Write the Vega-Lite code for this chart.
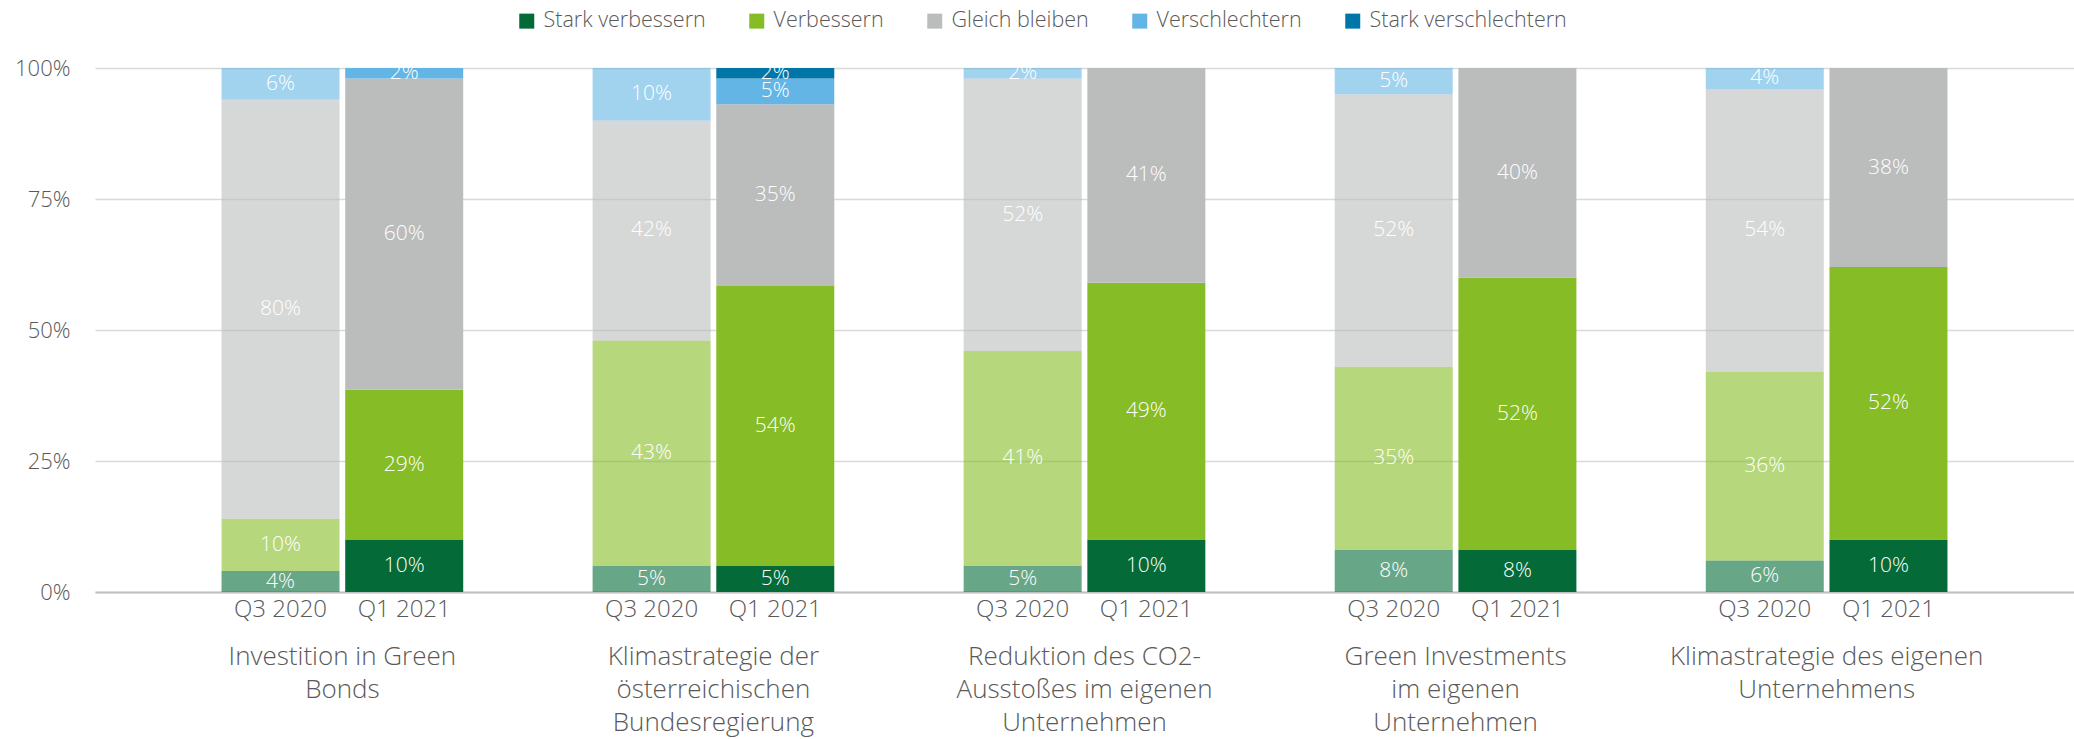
{
  "$schema": "https://vega.github.io/schema/vega-lite/v6.json",
  "width": 1979,
  "height": 524,
  "autosize": {"type": "none"},
  "padding": {"left": 95, "top": 68, "right": 0, "bottom": 147},
  "background": "white",
  "config": {
    "view": {"stroke": null},
    "font": "Open Sans",
    "text": {"font": "Open Sans"}
  },
  "data": {
    "values": [
      {"Thema": "Investition in Green Bonds", "Zeitraum": "Q3 2020", "Kategorie": "Stark verbessern", "Stufe": 1, "Wert": 0.04},
      {"Thema": "Investition in Green Bonds", "Zeitraum": "Q3 2020", "Kategorie": "Verbessern", "Stufe": 2, "Wert": 0.10},
      {"Thema": "Investition in Green Bonds", "Zeitraum": "Q3 2020", "Kategorie": "Gleich bleiben", "Stufe": 3, "Wert": 0.80},
      {"Thema": "Investition in Green Bonds", "Zeitraum": "Q3 2020", "Kategorie": "Verschlechtern", "Stufe": 4, "Wert": 0.06},
      {"Thema": "Investition in Green Bonds", "Zeitraum": "Q1 2021", "Kategorie": "Stark verbessern", "Stufe": 1, "Wert": 0.10},
      {"Thema": "Investition in Green Bonds", "Zeitraum": "Q1 2021", "Kategorie": "Verbessern", "Stufe": 2, "Wert": 0.29},
      {"Thema": "Investition in Green Bonds", "Zeitraum": "Q1 2021", "Kategorie": "Gleich bleiben", "Stufe": 3, "Wert": 0.60},
      {"Thema": "Investition in Green Bonds", "Zeitraum": "Q1 2021", "Kategorie": "Verschlechtern", "Stufe": 4, "Wert": 0.02},

      {"Thema": "Klimastrategie der österreichischen Bundesregierung", "Zeitraum": "Q3 2020", "Kategorie": "Stark verbessern", "Stufe": 1, "Wert": 0.05},
      {"Thema": "Klimastrategie der österreichischen Bundesregierung", "Zeitraum": "Q3 2020", "Kategorie": "Verbessern", "Stufe": 2, "Wert": 0.43},
      {"Thema": "Klimastrategie der österreichischen Bundesregierung", "Zeitraum": "Q3 2020", "Kategorie": "Gleich bleiben", "Stufe": 3, "Wert": 0.42},
      {"Thema": "Klimastrategie der österreichischen Bundesregierung", "Zeitraum": "Q3 2020", "Kategorie": "Verschlechtern", "Stufe": 4, "Wert": 0.10},
      {"Thema": "Klimastrategie der österreichischen Bundesregierung", "Zeitraum": "Q1 2021", "Kategorie": "Stark verbessern", "Stufe": 1, "Wert": 0.05},
      {"Thema": "Klimastrategie der österreichischen Bundesregierung", "Zeitraum": "Q1 2021", "Kategorie": "Verbessern", "Stufe": 2, "Wert": 0.54},
      {"Thema": "Klimastrategie der österreichischen Bundesregierung", "Zeitraum": "Q1 2021", "Kategorie": "Gleich bleiben", "Stufe": 3, "Wert": 0.35},
      {"Thema": "Klimastrategie der österreichischen Bundesregierung", "Zeitraum": "Q1 2021", "Kategorie": "Verschlechtern", "Stufe": 4, "Wert": 0.05},
      {"Thema": "Klimastrategie der österreichischen Bundesregierung", "Zeitraum": "Q1 2021", "Kategorie": "Stark verschlechtern", "Stufe": 5, "Wert": 0.02},

      {"Thema": "Reduktion des CO2-Ausstoßes im eigenen Unternehmen", "Zeitraum": "Q3 2020", "Kategorie": "Stark verbessern", "Stufe": 1, "Wert": 0.05},
      {"Thema": "Reduktion des CO2-Ausstoßes im eigenen Unternehmen", "Zeitraum": "Q3 2020", "Kategorie": "Verbessern", "Stufe": 2, "Wert": 0.41},
      {"Thema": "Reduktion des CO2-Ausstoßes im eigenen Unternehmen", "Zeitraum": "Q3 2020", "Kategorie": "Gleich bleiben", "Stufe": 3, "Wert": 0.52},
      {"Thema": "Reduktion des CO2-Ausstoßes im eigenen Unternehmen", "Zeitraum": "Q3 2020", "Kategorie": "Verschlechtern", "Stufe": 4, "Wert": 0.02},
      {"Thema": "Reduktion des CO2-Ausstoßes im eigenen Unternehmen", "Zeitraum": "Q1 2021", "Kategorie": "Stark verbessern", "Stufe": 1, "Wert": 0.10},
      {"Thema": "Reduktion des CO2-Ausstoßes im eigenen Unternehmen", "Zeitraum": "Q1 2021", "Kategorie": "Verbessern", "Stufe": 2, "Wert": 0.49},
      {"Thema": "Reduktion des CO2-Ausstoßes im eigenen Unternehmen", "Zeitraum": "Q1 2021", "Kategorie": "Gleich bleiben", "Stufe": 3, "Wert": 0.41},

      {"Thema": "Green Investments im eigenen Unternehmen", "Zeitraum": "Q3 2020", "Kategorie": "Stark verbessern", "Stufe": 1, "Wert": 0.08},
      {"Thema": "Green Investments im eigenen Unternehmen", "Zeitraum": "Q3 2020", "Kategorie": "Verbessern", "Stufe": 2, "Wert": 0.35},
      {"Thema": "Green Investments im eigenen Unternehmen", "Zeitraum": "Q3 2020", "Kategorie": "Gleich bleiben", "Stufe": 3, "Wert": 0.52},
      {"Thema": "Green Investments im eigenen Unternehmen", "Zeitraum": "Q3 2020", "Kategorie": "Verschlechtern", "Stufe": 4, "Wert": 0.05},
      {"Thema": "Green Investments im eigenen Unternehmen", "Zeitraum": "Q1 2021", "Kategorie": "Stark verbessern", "Stufe": 1, "Wert": 0.08},
      {"Thema": "Green Investments im eigenen Unternehmen", "Zeitraum": "Q1 2021", "Kategorie": "Verbessern", "Stufe": 2, "Wert": 0.52},
      {"Thema": "Green Investments im eigenen Unternehmen", "Zeitraum": "Q1 2021", "Kategorie": "Gleich bleiben", "Stufe": 3, "Wert": 0.40},

      {"Thema": "Klimastrategie des eigenen Unternehmens", "Zeitraum": "Q3 2020", "Kategorie": "Stark verbessern", "Stufe": 1, "Wert": 0.06},
      {"Thema": "Klimastrategie des eigenen Unternehmens", "Zeitraum": "Q3 2020", "Kategorie": "Verbessern", "Stufe": 2, "Wert": 0.36},
      {"Thema": "Klimastrategie des eigenen Unternehmens", "Zeitraum": "Q3 2020", "Kategorie": "Gleich bleiben", "Stufe": 3, "Wert": 0.54},
      {"Thema": "Klimastrategie des eigenen Unternehmens", "Zeitraum": "Q3 2020", "Kategorie": "Verschlechtern", "Stufe": 4, "Wert": 0.04},
      {"Thema": "Klimastrategie des eigenen Unternehmens", "Zeitraum": "Q1 2021", "Kategorie": "Stark verbessern", "Stufe": 1, "Wert": 0.10},
      {"Thema": "Klimastrategie des eigenen Unternehmens", "Zeitraum": "Q1 2021", "Kategorie": "Verbessern", "Stufe": 2, "Wert": 0.52},
      {"Thema": "Klimastrategie des eigenen Unternehmens", "Zeitraum": "Q1 2021", "Kategorie": "Gleich bleiben", "Stufe": 3, "Wert": 0.38}
    ]
  },
  "encoding": {
    "x": {
      "field": "Thema",
      "type": "nominal",
      "sort": [
        "Investition in Green Bonds",
        "Klimastrategie der österreichischen Bundesregierung",
        "Reduktion des CO2-Ausstoßes im eigenen Unternehmen",
        "Green Investments im eigenen Unternehmen",
        "Klimastrategie des eigenen Unternehmens"
      ],
      "scale": {"paddingInner": 0.33333, "paddingOuter": 0.33333},
      "axis": {
        "title": null,
        "labelAngle": 0,
        "ticks": false,
        "domain": true,
        "domainColor": "#BFBFBF",
        "domainWidth": 2,
        "grid": false,
        "labelFont": "Open Sans",
        "labelFontSize": 26,
        "labelFontWeight": 300,
        "labelColor": "#595959",
        "labelLineHeight": 33,
        "labelPadding": 51,
        "labelLimit": 400,
        "labelExpr": "datum.value == 'Investition in Green Bonds' ? ['Investition in Green', 'Bonds'] : datum.value == 'Klimastrategie der österreichischen Bundesregierung' ? ['Klimastrategie der', 'österreichischen', 'Bundesregierung'] : datum.value == 'Reduktion des CO2-Ausstoßes im eigenen Unternehmen' ? ['Reduktion des CO2-', 'Ausstoßes im eigenen', 'Unternehmen'] : datum.value == 'Green Investments im eigenen Unternehmen' ? ['Green Investments', 'im eigenen', 'Unternehmen'] : ['Klimastrategie des eigenen', 'Unternehmens']"
      }
    },
    "xOffset": {
      "field": "Zeitraum",
      "type": "nominal",
      "sort": ["Q3 2020", "Q1 2021"],
      "scale": {"paddingInner": 0.046, "paddingOuter": 0.023}
    }
  },
  "layer": [
    {
      "mark": {"type": "bar"},
      "encoding": {
        "y": {
          "field": "Wert",
          "type": "quantitative",
          "stack": "normalize",
          "scale": {"domain": [0, 1]},
          "axis": {
            "title": null,
            "values": [0, 0.25, 0.5, 0.75, 1],
            "format": ".0%",
            "domain": false,
            "ticks": false,
            "grid": true,
            "gridColor": "#D9D9D9",
            "gridWidth": 1.3,
            "labelFont": "Open Sans",
            "labelFontSize": 22,
            "labelFontWeight": 300,
            "labelColor": "#595959",
            "labelPadding": 25
          }
        },
        "color": {
          "field": "Kategorie",
          "type": "nominal",
          "scale": {
            "domain": ["Stark verbessern", "Verbessern", "Gleich bleiben", "Verschlechtern", "Stark verschlechtern"],
            "range": ["#046A38", "#86BC25", "#BBBCBC", "#62B5E5", "#0076A8"]
          },
          "legend": {
            "title": null,
            "orient": "none",
            "legendX": 421,
            "legendY": -58,
            "direction": "horizontal",
            "columns": 5,
            "symbolType": "square",
            "symbolSize": 225,
            "symbolStrokeWidth": 0,
            "labelFont": "Open Sans",
            "labelFontSize": 21.5,
            "labelFontWeight": 300,
            "labelColor": "#595959",
            "labelOffset": 6,
            "columnPadding": 40,
            "labelLimit": 400
          }
        },
        "opacity": {
          "field": "Zeitraum",
          "type": "nominal",
          "scale": {"domain": ["Q3 2020", "Q1 2021"], "range": [0.6, 1]},
          "legend": null
        },
        "order": {"field": "Stufe", "type": "quantitative"}
      }
    },
    {
      "mark": {"type": "text", "color": "white", "fontSize": 21, "fontWeight": 300, "font": "Open Sans", "baseline": "middle"},
      "encoding": {
        "y": {"field": "Wert", "type": "quantitative", "stack": "normalize", "bandPosition": 0.5},
        "detail": {"field": "Kategorie", "type": "nominal"},
        "order": {"field": "Stufe", "type": "quantitative"},
        "text": {"field": "Wert", "type": "quantitative", "format": ".0%"}
      }
    },
    {
      "transform": [{"filter": "datum.Stufe == 1"}],
      "mark": {"type": "text", "color": "#595959", "fontSize": 24, "fontWeight": 300, "font": "Open Sans", "baseline": "middle", "dy": 18},
      "encoding": {
        "y": {"datum": 0, "type": "quantitative"},
        "text": {"field": "Zeitraum", "type": "nominal"}
      }
    }
  ]
}
